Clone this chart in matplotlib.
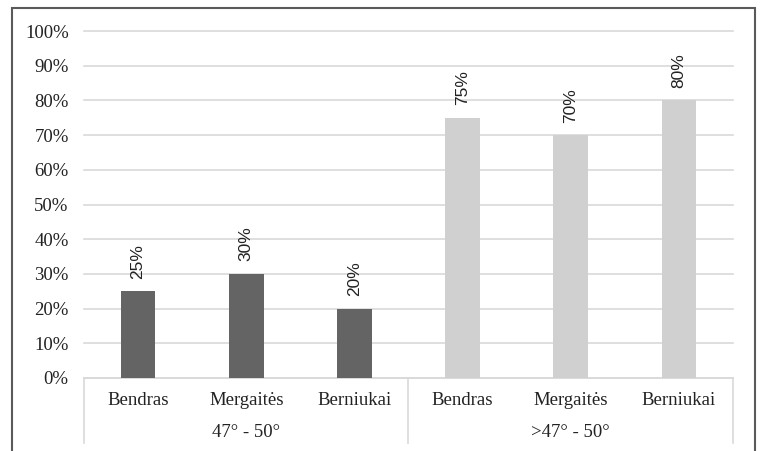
import matplotlib.pyplot as plt
import numpy as np
from matplotlib.patches import Rectangle
from matplotlib.ticker import PercentFormatter

categories = ['Bendras', 'Mergaitės', 'Berniukai', 'Bendras', 'Mergaitės', 'Berniukai']
groups = ['47° - 50°', '>47° - 50°']
values = [25, 30, 20, 75, 70, 80]
colors = ['#646464'] * 3 + ['#d0d0d0'] * 3

W, H = 760, 451
fig = plt.figure(figsize=(W / 100, H / 100), dpi=100)

# outer frame (bottom edge cut off like the original)
fig.patches.append(Rectangle((12 / W, -0.05), (755 - 12) / W, 1 - 8 / H + 0.05,
                             transform=fig.transFigure, fill=False,
                             edgecolor='#5a5a5a', linewidth=1.5))

left, right, top, bottom = 84, 733, 31, 378
ax = fig.add_axes([left / W, 1 - bottom / H, (right - left) / W, (bottom - top) / H])

x = np.arange(len(values))
ax.bar(x, values, width=0.32, color=colors, zorder=3)
ax.set_xlim(-0.5, len(values) - 0.5)
ax.set_ylim(0, 100)
ax.set_yticks(np.arange(0, 101, 10))
ax.yaxis.set_major_formatter(PercentFormatter(decimals=0))
ax.grid(axis='y', color='#d9d9d9', linewidth=1.2, zorder=0)
for gl in ax.get_ygridlines():
    gl.set_clip_on(False)
for s in ['top', 'right', 'left']:
    ax.spines[s].set_visible(False)
ax.spines['bottom'].set_color('#d9d9d9')
ax.spines['bottom'].set_linewidth(1.2)
ax.tick_params(axis='y', length=0, pad=11, labelsize=13.5, labelcolor='#222222')
ax.tick_params(axis='x', length=0, bottom=False, labelbottom=False)
for lab in ax.get_yticklabels():
    lab.set_family('Liberation Serif')

for xi, v in zip(x, values):
    ax.annotate(f'{v}%', (xi, v), xytext=(0, 9), textcoords='offset points',
                rotation=90, ha='center', va='bottom', fontsize=12.5,
                family='Liberation Sans', color='#222222')

# category labels and group box below axis
for xi, c in zip(x, categories):
    ax.text(xi, -0.065, c, transform=ax.get_xaxis_transform(), ha='center', va='center',
            fontsize=13.5, family='Liberation Serif', color='#222222')
for gi, g in enumerate(groups):
    ax.text(gi * 3 + 1, -0.157, g, transform=ax.get_xaxis_transform(), ha='center', va='center',
            fontsize=13.5, family='Liberation Serif', color='#222222')
for xv in [-0.5, 2.5, 5.5]:
    ax.plot([xv, xv], [0, -0.187], transform=ax.get_xaxis_transform(),
            color='#d9d9d9', linewidth=1.2, clip_on=False)

fig.savefig('out.png', dpi=100)
